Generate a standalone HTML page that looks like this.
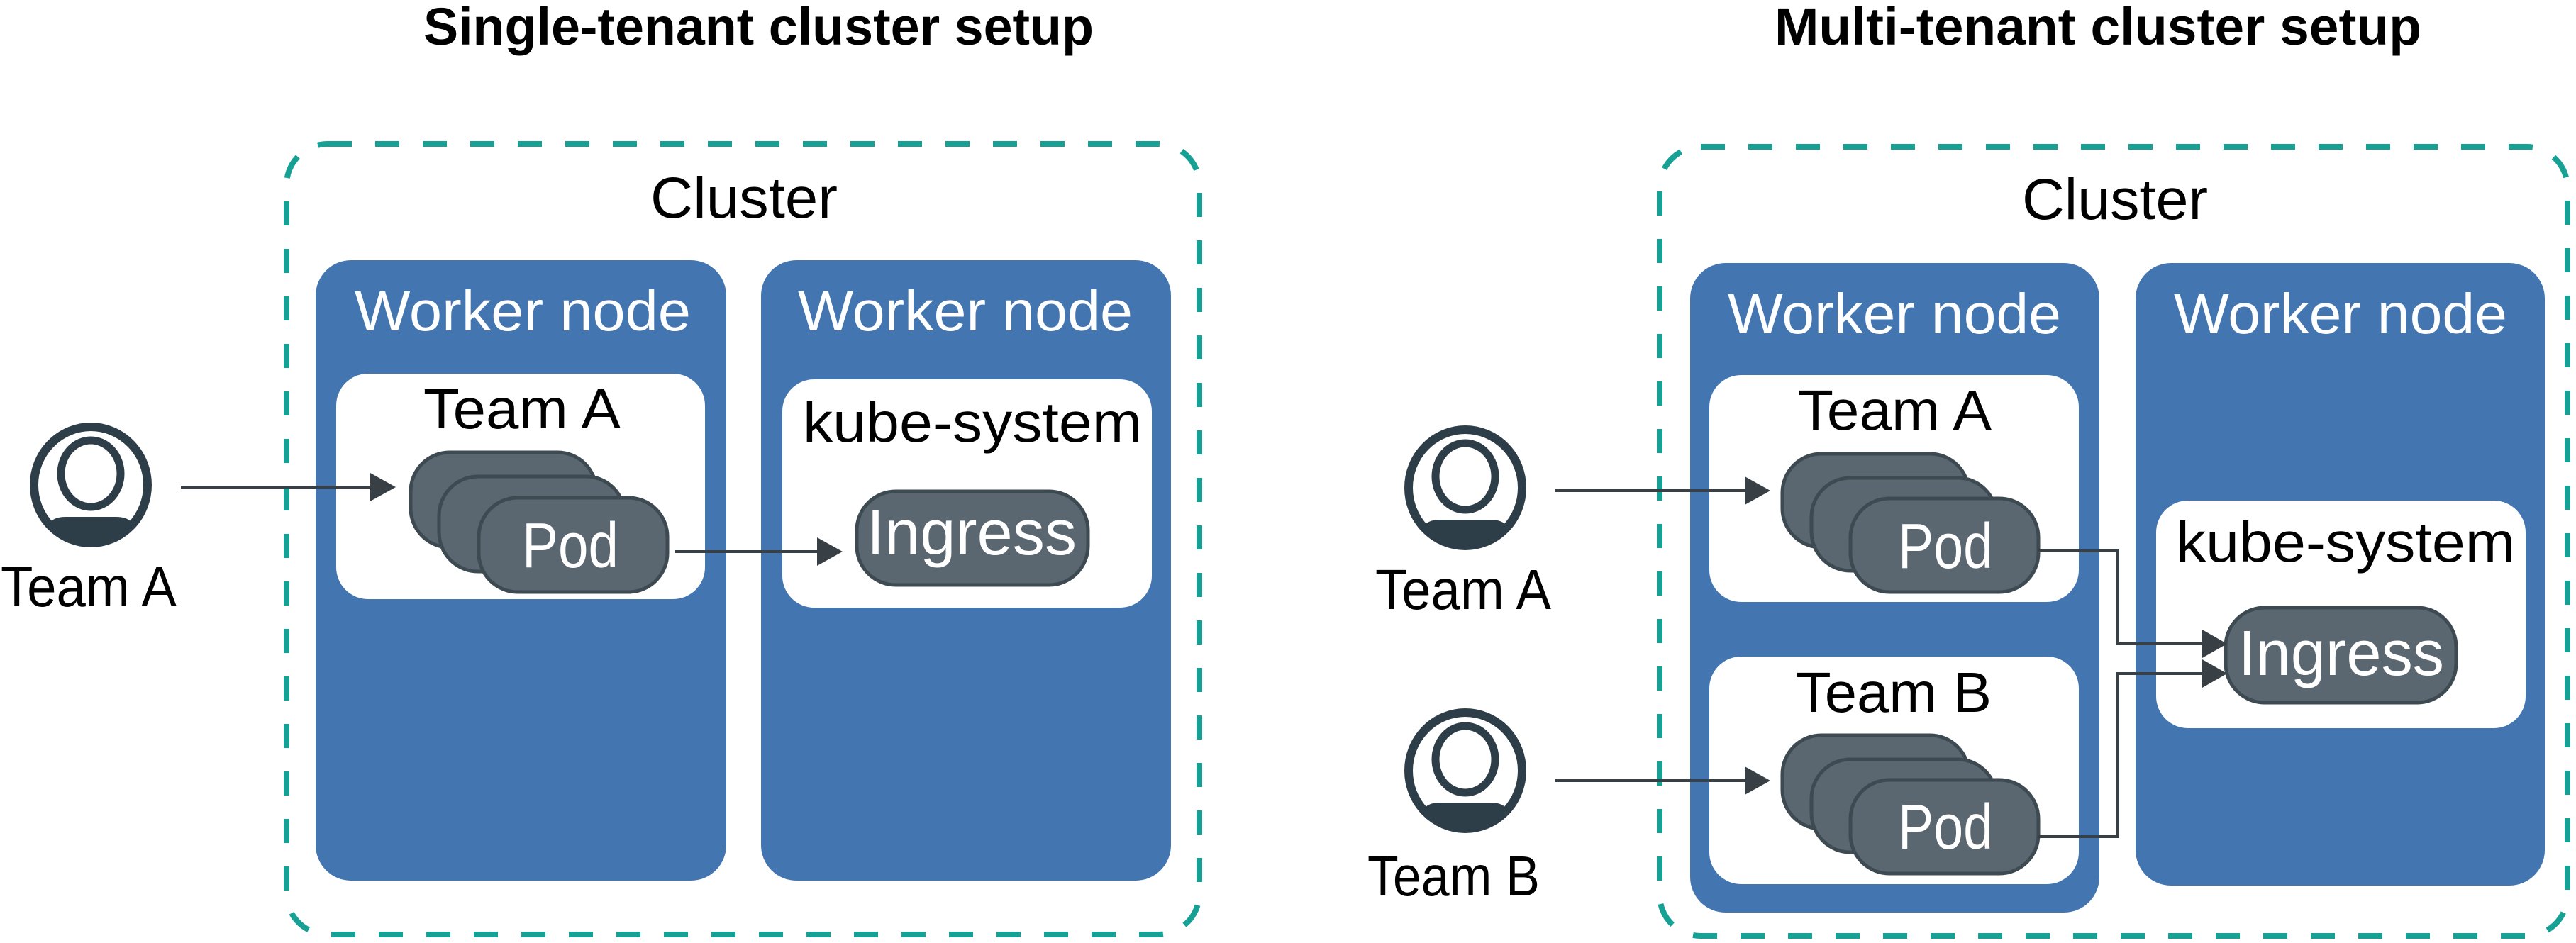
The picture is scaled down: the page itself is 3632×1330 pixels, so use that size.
<!DOCTYPE html>
<html><head><meta charset="utf-8"><style>html,body{margin:0;padding:0;background:#fff}svg{display:block}text{font-family:"Liberation Sans",sans-serif}</style></head>
<body>
<svg width="3632" height="1330" viewBox="0 0 3632 1330" xmlns="http://www.w3.org/2000/svg">
<defs>
<g id="person">
  <ellipse cx="0" cy="0" rx="80" ry="82" fill="none" stroke="#2d3e48" stroke-width="12"/>
  <ellipse cx="0" cy="-16" rx="42" ry="47" fill="none" stroke="#2d3e48" stroke-width="11"/>
  <path d="M-57,52 Q-50,45 -36,45 L36,45 Q50,45 57,52 A78,80 0 0 1 -57,52 Z" fill="#2d3e48"/>
</g>
</defs>
<g fill="#000">
<text x="597" y="63" font-size="74" font-weight="bold" textLength="945" lengthAdjust="spacingAndGlyphs">Single-tenant cluster setup</text>
<text x="2502" y="63" font-size="74" font-weight="bold" textLength="912" lengthAdjust="spacingAndGlyphs">Multi-tenant cluster setup</text>
</g>
<rect x="404" y="203" width="1287" height="1115" rx="58" fill="none" stroke="#17a195" stroke-width="8" stroke-dasharray="34 33"/>
<rect x="2340" y="207" width="1280" height="1113" rx="58" fill="none" stroke="#17a195" stroke-width="8" stroke-dasharray="34 33"/>
<text x="917" y="307" font-size="82" textLength="264" lengthAdjust="spacingAndGlyphs">Cluster</text>
<text x="2851" y="309" font-size="82" textLength="262" lengthAdjust="spacingAndGlyphs">Cluster</text>
<g fill="#4376b1">
<rect x="445" y="367" width="579" height="875" rx="50"/>
<rect x="1073" y="367" width="578" height="875" rx="50"/>
<rect x="2383" y="371" width="577" height="916" rx="50"/>
<rect x="3011" y="371" width="577" height="878" rx="50"/>
</g>
<g fill="#fff" font-size="80">
<text x="500" y="466" textLength="474" lengthAdjust="spacingAndGlyphs">Worker node</text>
<text x="1125" y="466" textLength="472" lengthAdjust="spacingAndGlyphs">Worker node</text>
<text x="2436" y="470" textLength="470" lengthAdjust="spacingAndGlyphs">Worker node</text>
<text x="3065" y="470" textLength="470" lengthAdjust="spacingAndGlyphs">Worker node</text>
</g>
<g fill="#fff">
<rect x="474" y="527" width="520" height="318" rx="45"/>
<rect x="1103" y="535" width="521" height="322" rx="45"/>
<rect x="2410" y="529" width="521" height="320" rx="45"/>
<rect x="2410" y="926" width="521" height="321" rx="45"/>
<rect x="3040" y="706" width="521" height="321" rx="45"/>
</g>
<g font-size="80" fill="#000">
<text x="597" y="604" textLength="278" lengthAdjust="spacingAndGlyphs">Team A</text>
<text x="1132" y="623" textLength="478" lengthAdjust="spacingAndGlyphs">kube-system</text>
<text x="2535" y="606" textLength="273" lengthAdjust="spacingAndGlyphs">Team A</text>
<text x="2532" y="1004" textLength="276" lengthAdjust="spacingAndGlyphs">Team B</text>
<text x="3068" y="792" textLength="478" lengthAdjust="spacingAndGlyphs">kube-system</text>
<text x="1" y="855" textLength="248" lengthAdjust="spacingAndGlyphs">Team A</text>
<text x="1939" y="859" textLength="248" lengthAdjust="spacingAndGlyphs">Team A</text>
<text x="1928" y="1263" textLength="243" lengthAdjust="spacingAndGlyphs">Team B</text>
</g>
<g fill="#5a6670" stroke="#3e4a52" stroke-width="5">
<rect x="579" y="638" width="262" height="134" rx="55"/>
<rect x="619" y="672" width="262" height="134" rx="55"/>
<rect x="675" y="702" width="266" height="133" rx="55"/>
<rect x="1208" y="693" width="326" height="132" rx="55"/>
<rect x="2513" y="640" width="263" height="132" rx="55"/>
<rect x="2554" y="674" width="261" height="131" rx="55"/>
<rect x="2609" y="703" width="265" height="132" rx="55"/>
<rect x="2513" y="1037" width="263" height="132" rx="55"/>
<rect x="2554" y="1071" width="261" height="131" rx="55"/>
<rect x="2609" y="1100" width="265" height="132" rx="55"/>
<rect x="3138" y="857" width="325" height="134" rx="55"/>
</g>
<g fill="#fff" font-size="90">
<text x="736" y="800" textLength="136" lengthAdjust="spacingAndGlyphs">Pod</text>
<text x="1222" y="782" textLength="296" lengthAdjust="spacingAndGlyphs">Ingress</text>
<text x="2676" y="801" textLength="134" lengthAdjust="spacingAndGlyphs">Pod</text>
<text x="2676" y="1197" textLength="134" lengthAdjust="spacingAndGlyphs">Pod</text>
<text x="3156" y="952" textLength="290" lengthAdjust="spacingAndGlyphs">Ingress</text>
</g>
<use href="#person" x="128" y="684"/>
<use href="#person" x="2066" y="688"/>
<use href="#person" x="2066" y="1087"/>
<g stroke="#384046" stroke-width="4" fill="none">
<line x1="255" y1="687" x2="525" y2="687"/>
<line x1="952" y1="778" x2="1152" y2="778"/>
<line x1="2193" y1="692" x2="2462" y2="692"/>
<line x1="2193" y1="1101" x2="2462" y2="1101"/>
<polyline points="2874,777 2986,777 2986,908 3108,908"/>
<polyline points="2874,1180 2986,1180 2986,950 3108,950"/>
</g>
<g fill="#384046">
<polygon points="522,667 558,687 522,707"/>
<polygon points="1152,758 1188,778 1152,798"/>
<polygon points="2460,672 2496,692 2460,712"/>
<polygon points="2460,1081 2496,1101 2460,1121"/>
<polygon points="3105,888 3140,908 3105,928"/>
<polygon points="3105,930 3140,950 3105,970"/>
</g>
</svg>
</body></html>
